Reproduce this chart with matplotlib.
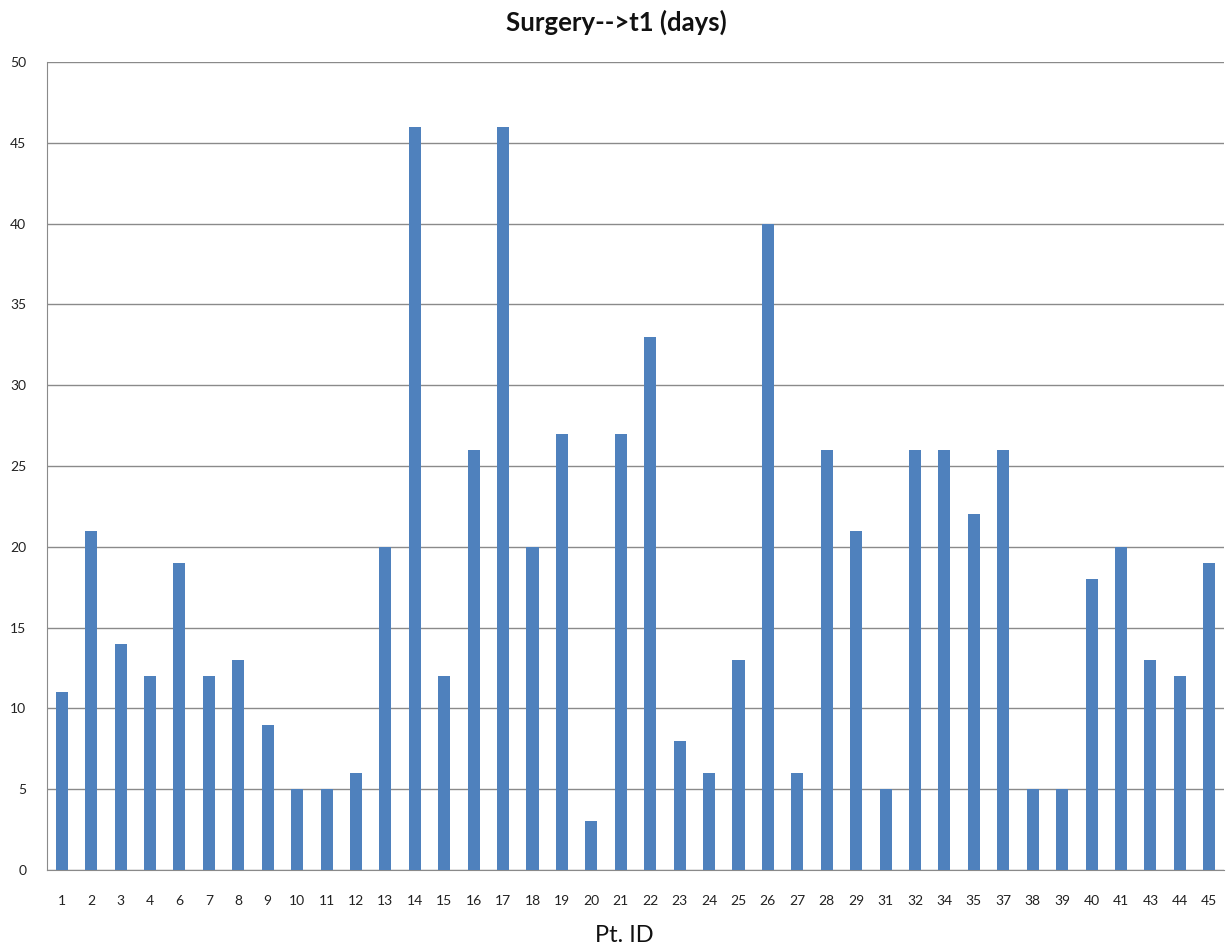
import matplotlib
matplotlib.use("Agg")
import matplotlib.pyplot as plt

pt_ids = ["1", "2", "3", "4", "6", "7", "8", "9", "10", "11", "12", "13", "14", "15",
          "16", "17", "18", "19", "20", "21", "22", "23", "24", "25", "26", "27", "28",
          "29", "31", "32", "34", "35", "37", "38", "39", "40", "41", "43", "44", "45"]
days = [11, 21, 14, 12, 19, 12, 13, 9, 5, 5, 6, 20, 46, 12, 26, 46, 20, 27, 3, 27,
        33, 8, 6, 13, 40, 6, 26, 21, 5, 26, 26, 22, 26, 5, 5, 18, 20, 13, 12, 19]
yticks = [0, 5, 10, 15, 20, 25, 30, 35, 40, 45, 50]

plt.rcParams['font.family'] = ['Lato', 'DejaVu Sans']

fig = plt.figure(figsize=(12.31, 9.51), dpi=100)
ax = fig.add_axes([0.0382, 0.0852, 0.9561, 0.8496])

x = list(range(len(pt_ids)))
ax.bar(x, days, width=0.41, color="#4F81BD", zorder=3)

ax.set_xlim(-0.5, len(pt_ids) - 0.5)
ax.set_ylim(0, 50)
ax.set_yticks(yticks)
ax.set_yticklabels([str(v) for v in yticks], fontsize=10, color="#222222")
ax.set_xticks(x)
ax.set_xticklabels(pt_ids, fontsize=10, color="#222222")
ax.tick_params(axis='both', length=0)
ax.tick_params(axis='x', pad=18)
ax.tick_params(axis='y', pad=15)

ax.yaxis.grid(True, color="#8a8a8a", linewidth=1.0, zorder=0)
ax.set_axisbelow(True)
for s in ["top", "right"]:
    ax.spines[s].set_visible(False)
ax.spines["left"].set_color("#8a8a8a")
ax.spines["bottom"].set_color("#8a8a8a")

fig.text(0.5008, 0.976, "Surgery-->t1 (days)", ha="center", va="center",
         fontsize=18.5, fontweight="bold", color="#111111")
fig.text(0.507, 0.016, "Pt. ID", ha="center", va="center", fontsize=17, color="#111111")

fig.savefig("out.png", dpi=100, facecolor="white")
